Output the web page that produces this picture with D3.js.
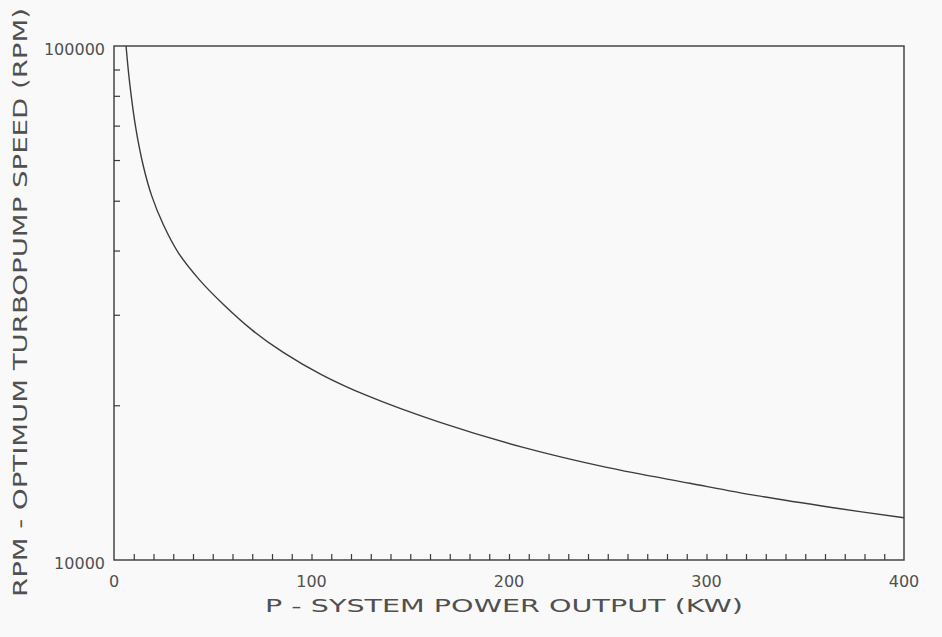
<!DOCTYPE html>
<html>
<head>
<meta charset="utf-8">
<script src="https://cdn.jsdelivr.net/npm/d3@7"></script>
<style>
  html, body { margin: 0; padding: 0; background: #f9f9f9; }
  svg { display: block; }
  text { font-family: "DejaVu Sans", sans-serif; fill: #505050; }
</style>
</head>
<body>
<svg id="chart" width="942" height="637"></svg>
<script>
// System power output (kW) and optimum turbopump speed (rpm)
const powerKW = [6.1, 8, 11.1, 15, 19.1, 25, 32.6, 43.5, 55.3, 70, 85.7, 105, 127.9, 165.1, 207.2, 249.5, 291.6, 325.4, 364.2, 400];
const speedRPM = [100000, 84300, 69000, 58100, 51100, 44900, 39600, 35000, 31450, 28000, 25350, 22950, 20900, 18520, 16560, 15140, 14100, 13340, 12640, 12080];

const xLabelValues = [0, 100, 200, 300, 400];
const xMinorTicks = d3.range(10, 400, 10);
const yLabelValues = [10000, 100000];
const yMinorTicks = [20000, 30000, 40000, 50000, 60000, 70000, 80000, 90000];

const xTitle = "P  -  SYSTEM  POWER  OUTPUT  (KW)";
const yTitle = "RPM  -  OPTIMUM  TURBOPUMP  SPEED  (RPM)";

const svg = d3.select("#chart");
const plotLeft = 114, plotRight = 904, plotTop = 46, plotBottom = 560;

const x = d3.scaleLinear().domain([0, 400]).range([plotLeft, plotRight]);
const y = d3.scaleLog().domain([10000, 100000]).range([plotBottom, plotTop]);

const axisColor = "#3a3a3a";

// frame
svg.append("rect")
  .attr("x", plotLeft).attr("y", plotTop)
  .attr("width", plotRight - plotLeft).attr("height", plotBottom - plotTop)
  .attr("fill", "none").attr("stroke", axisColor).attr("stroke-width", 1.4);

// inward ticks on the bottom axis
const xAxis = svg.append("g")
  .attr("transform", `translate(0,${plotBottom})`)
  .call(d3.axisBottom(x).tickValues(xMinorTicks).tickSize(-6).tickFormat(""));
xAxis.select(".domain").remove();
xAxis.selectAll("line").attr("stroke", axisColor).attr("stroke-width", 1.2);

// inward ticks on the left axis
const yAxis = svg.append("g")
  .attr("transform", `translate(${plotLeft},0)`)
  .call(d3.axisLeft(y).tickValues(yMinorTicks).tickSize(-6).tickFormat(""));
yAxis.select(".domain").remove();
yAxis.selectAll("line").attr("stroke", axisColor).attr("stroke-width", 1.2);

// x tick labels
svg.append("g").selectAll("text")
  .data(xLabelValues)
  .join("text")
  .attr("x", d => x(d))
  .attr("y", plotBottom + 27)
  .attr("text-anchor", "middle")
  .style("font-size", "16px")
  .text(d => d);

// y tick labels
svg.append("g").selectAll("text")
  .data(yLabelValues)
  .join("text")
  .attr("x", plotLeft - 9)
  .attr("y", d => y(d) + 9)
  .attr("text-anchor", "end")
  .style("font-size", "16px")
  .text(d => d);

// axis titles
svg.append("text")
  .attr("x", 265).attr("y", 612)
  .attr("textLength", 478).attr("lengthAdjust", "spacingAndGlyphs")
  .style("font-size", "18px")
  .text(xTitle);

svg.append("text")
  .attr("transform", "translate(27,597) rotate(-90)")
  .attr("textLength", 589).attr("lengthAdjust", "spacingAndGlyphs")
  .style("font-size", "19px")
  .text(yTitle);

// speed curve
const line = d3.line()
  .x(d => x(d[0]))
  .y(d => y(d[1]))
  .curve(d3.curveCatmullRom.alpha(0.5));

svg.append("path")
  .datum(powerKW.map((p, i) => [p, speedRPM[i]]))
  .attr("d", line)
  .attr("fill", "none")
  .attr("stroke", "#3c3c3c")
  .attr("stroke-width", 1.4);
</script>
</body>
</html>
